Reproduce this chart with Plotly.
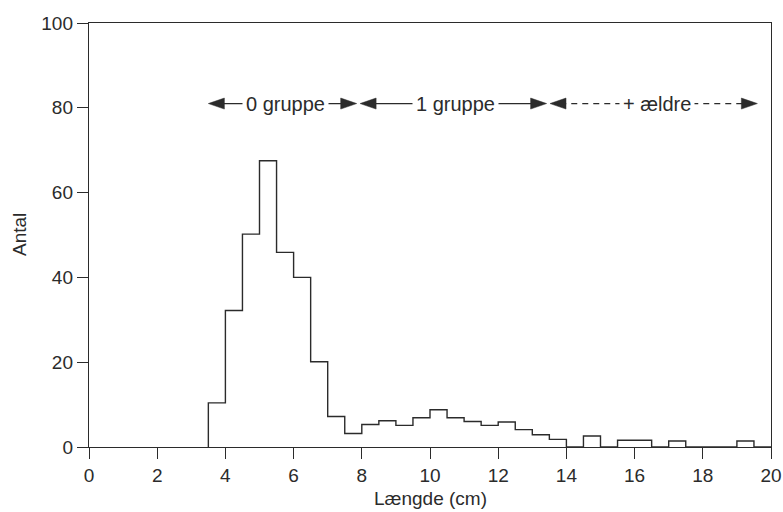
import plotly.graph_objects as go

# Histogram: bin starts (cm), bin width 0.5 cm, counts
bin_starts = [3.5 + 0.5 * i for i in range(33)]
counts = [10.4, 32.2, 50.2, 67.5, 45.9, 40.0, 20.1, 7.2, 3.2, 5.3, 6.2, 5.1,
          6.9, 8.8, 6.9, 6.0, 5.1, 5.9, 4.1, 2.9, 1.8, 0.0, 2.6, 0.0,
          1.6, 1.6, 0.0, 1.4, 0.0, 0.0, 0.0, 1.4, 0.0]
bin_width = 0.5

# Age groups (label, start, end, line dash, label centre)
group_labels = ["0 gruppe", "1 gruppe", "+ ældre"]
group_start = [3.5, 7.95, 13.52]
group_end = [7.85, 13.42, 19.6]
group_dash = ["solid", "solid", "dash"]
group_text_x = [5.75, 10.76, 16.67]
group_y = 81

x_ticks = [0, 2, 4, 6, 8, 10, 12, 14, 16, 18, 20]
y_ticks = [0, 20, 40, 60, 80, 100]

INK = "#2b2b2b"
FONT = "Liberation Sans, Arial, sans-serif"

# step outline
xs = [bin_starts[0]] + bin_starts + [bin_starts[-1] + bin_width]
ys = [0] + counts + [0]

fig = go.Figure()
fig.add_trace(go.Scatter(x=xs, y=ys, mode="lines", line=dict(shape="hv", color=INK, width=1.4),
                         hoverinfo="skip", showlegend=False))

shapes = []
annotations = []
for lab, s, e, d, tx in zip(group_labels, group_start, group_end, group_dash, group_text_x):
    shapes.append(dict(type="line", xref="x", yref="y", x0=s + 0.3, x1=e - 0.3, y0=group_y, y1=group_y,
                       line=dict(color=INK, width=1.2, dash="solid" if d == "solid" else "6px,5px"),
                       layer="above"))
    shapes.append(dict(type="path", xref="x", yref="y", xsizemode="pixel", ysizemode="pixel",
                       xanchor=s, yanchor=group_y, path="M 0 0 L 16 5.5 L 16 -5.5 Z",
                       fillcolor=INK, line=dict(color=INK, width=0.5), layer="above"))
    shapes.append(dict(type="path", xref="x", yref="y", xsizemode="pixel", ysizemode="pixel",
                       xanchor=e, yanchor=group_y, path="M 0 0 L -16 5.5 L -16 -5.5 Z",
                       fillcolor=INK, line=dict(color=INK, width=0.5), layer="above"))
    annotations.append(dict(x=tx, y=group_y, xref="x", yref="y", text=lab, showarrow=False,
                            bgcolor="white", borderpad=3,
                            font=dict(family=FONT, size=20, color=INK)))

# axis titles as paper-anchored annotations
annotations.append(dict(x=0.5, y=0, xref="paper", yref="paper", yanchor="top", yshift=-40,
                        text="Længde (cm)", showarrow=False, borderpad=0,
                        font=dict(family=FONT, size=19, color=INK)))
annotations.append(dict(x=0, y=0.5, xref="paper", yref="paper", xanchor="center", xshift=-70,
                        text="Antal", textangle=-90, showarrow=False,
                        font=dict(family=FONT, size=19, color=INK)))

fig.update_layout(
    width=783, height=512,
    margin=dict(l=89, r=12, t=23, b=65),
    paper_bgcolor="white", plot_bgcolor="white",
    shapes=shapes, annotations=annotations,
    font=dict(family=FONT, size=19, color=INK),
    showlegend=False,
)
fig.update_xaxes(range=[0, 20], tickvals=x_ticks, ticks="outside", ticklen=11, tickwidth=1.2,
                 tickcolor=INK, showline=True, linecolor=INK, linewidth=1.4, mirror=True,
                 showgrid=False, zeroline=False, automargin=False,
                 tickfont=dict(size=19))
fig.update_yaxes(range=[0, 100], tickvals=y_ticks, ticks="outside", ticklen=11, tickwidth=1.2,
                 tickcolor=INK, showline=True, linecolor=INK, linewidth=1.4, mirror=True,
                 showgrid=False, zeroline=False, automargin=False,
                 tickfont=dict(size=19))

fig.write_html("out.html", config={"displayModeBar": False},
               post_script="document.body.style.margin='0px';document.body.style.overflow='hidden';")
